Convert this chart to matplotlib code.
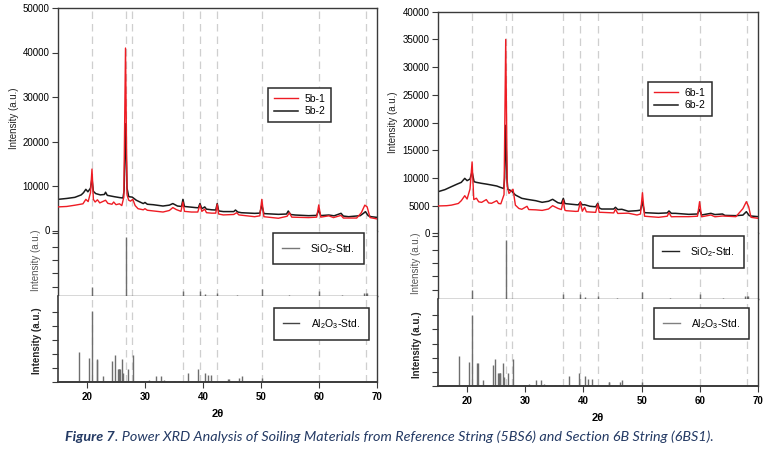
import matplotlib
matplotlib.use("Agg")
import matplotlib.pyplot as plt
from matplotlib.ticker import FixedLocator, NullFormatter

plt.rcParams['font.family'] = ['Liberation Sans', 'DejaVu Sans']
plt.rcParams['mathtext.fontset'] = 'custom'
plt.rcParams['mathtext.rm'] = 'Liberation Sans'
plt.rcParams['mathtext.default'] = 'regular'

# ---------------- data ----------------
# Sample 5b (left panel)
tt_5b1 = [15.0, 16.5, 18.0, 19.3, 19.8, 20.2, 20.6, 20.86, 21.1, 21.4, 21.8, 22.2, 23.2, 23.6,
          24.3, 24.6, 25.0, 25.6, 26.0, 26.35, 26.64, 26.9, 27.2, 27.5, 27.9, 28.3, 28.8, 29.7,
          30.0, 30.4, 31.4, 33.1, 34.2, 34.8, 35.4, 36.2, 36.54, 36.8, 38.0, 39.1, 39.47, 39.8,
          40.3, 40.6, 41.5, 42.2, 42.45, 42.7, 43.5, 45.3, 45.8, 46.2, 48.9, 49.8, 50.14, 50.5,
          53.0, 54.5, 54.9, 55.3, 58.2, 59.6, 59.96, 60.3, 61.7, 62.5, 63.8, 64.2, 66.5, 67.3,
          67.9, 68.3, 68.8, 70.0]
int_5b1 = [5300, 5400, 5700, 6000, 7000, 6500, 8500, 13800, 7000, 6400, 6900, 6200, 6800, 6100,
           5900, 6400, 5800, 6000, 5600, 7500, 41000, 8000, 6800, 6600, 7000, 5600, 4900, 4650,
           4900, 4550, 4400, 4150, 4500, 5150, 4700, 4300, 6400, 4300, 4150, 4150, 5750, 4300,
           4800, 4000, 3900, 3900, 5900, 3700, 3500, 3600, 4000, 3500, 3100, 3300, 7000, 3100,
           2750, 3200, 4000, 3000, 2900, 3000, 5750, 3000, 3300, 2900, 3400, 2800, 2800, 4000,
           5700, 5300, 2900, 2600]

tt_5b2 = [15.0, 16.5, 17.9, 19.0, 19.4, 19.8, 20.15, 20.6, 20.86, 21.1, 21.5, 22.3, 23.0, 23.2,
          23.5, 24.7, 25.6, 26.2, 26.4, 26.64, 26.9, 27.2, 27.8, 28.5, 29.7, 30.0, 30.4, 31.4,
          33.1, 34.2, 34.8, 35.6, 36.3, 36.54, 36.8, 38.7, 39.2, 39.47, 39.8, 40.3, 40.6, 41.5,
          42.2, 42.45, 42.7, 43.5, 45.3, 45.6, 46.0, 46.6, 48.9, 49.8, 50.14, 50.5, 53.0, 54.4,
          54.7, 55.1, 55.9, 58.2, 59.6, 59.96, 60.3, 61.7, 62.6, 63.8, 64.2, 65.1, 67.1, 67.7,
          68.0, 68.5, 69.0, 70.0]
int_5b2 = [7000, 7200, 7450, 8000, 8500, 9250, 8700, 9500, 11700, 8800, 8300, 8000, 8100, 8600,
           7900, 7600, 7400, 7300, 9000, 24000, 9500, 7600, 7500, 6800, 6050, 6300, 5900, 5800,
           5500, 5700, 6050, 5500, 5400, 7000, 5400, 5150, 5100, 6050, 4900, 5300, 4800, 4650,
           4600, 6050, 4400, 4250, 4250, 4600, 4150, 4000, 3850, 3900, 5730, 3800, 3630, 3700,
           4380, 3600, 3480, 3330, 3400, 4600, 3350, 3480, 3300, 3860, 3250, 3100, 3330, 3900,
           4230, 3300, 3100, 2950]

# Sample 6b (right panel)
tt_6b1 = [15.0, 16.5, 17.3, 18.5, 19.0, 19.6, 20.0, 20.5, 20.86, 21.15, 21.6, 22.0, 22.5, 23.3,
          23.7, 24.2, 25.1, 25.4, 25.8, 26.35, 26.64, 26.9, 27.2, 27.5, 27.9, 28.3, 28.9, 29.4,
          30.3, 30.6, 31.8, 32.9, 34.0, 34.7, 35.6, 36.2, 36.54, 36.8, 37.0, 38.7, 39.1, 39.47,
          39.8, 40.2, 40.5, 41.1, 42.1, 42.45, 42.7, 43.1, 45.2, 45.5, 45.9, 46.6, 47.7, 49.2,
          49.8, 50.14, 50.5, 52.9, 54.4, 54.7, 55.1, 55.8, 58.1, 59.6, 59.96, 60.3, 61.9, 62.6,
          63.9, 66.2, 67.4, 68.0, 68.4, 68.8, 70.0]
int_6b1 = [4950, 5000, 5100, 5400, 5900, 6800, 6200, 8000, 12900, 6100, 6350, 5700, 5600, 6100,
           5500, 5430, 5900, 5400, 5340, 7000, 35000, 8500, 7200, 7600, 7950, 5100, 4500, 4350,
           4890, 4300, 4250, 4150, 4400, 5000, 4520, 4300, 6000, 4200, 4100, 3970, 4000, 5720,
           4000, 4700, 3900, 3860, 3800, 5300, 3800, 3800, 3700, 4350, 3600, 3620, 3650, 3320,
           3500, 7340, 3100, 2900, 3100, 3740, 3000, 3020, 3020, 3100, 5720, 3000, 3320, 3000,
           3140, 3020, 4460, 5720, 4800, 2900, 2720]

tt_6b2 = [15.0, 16.2, 17.3, 18.3, 19.0, 19.6, 20.0, 20.5, 20.86, 21.2, 21.6, 22.5, 23.3, 24.2,
          25.1, 25.7, 26.3, 26.45, 26.64, 26.85, 27.0, 27.6, 28.3, 29.4, 30.3, 31.8, 32.9, 34.0,
          34.7, 35.6, 36.2, 36.54, 36.8, 37.0, 38.7, 39.1, 39.47, 39.8, 40.2, 41.1, 42.1, 42.45,
          42.7, 43.1, 45.2, 45.5, 45.9, 46.6, 47.7, 49.2, 49.8, 50.14, 50.5, 52.9, 54.4, 54.7,
          55.1, 55.8, 58.1, 59.6, 59.96, 60.3, 61.9, 62.6, 63.9, 64.3, 66.2, 67.4, 68.0, 68.5,
          68.8, 70.0]
int_6b2 = [7520, 7900, 8430, 8900, 9210, 9930, 9520, 9800, 11130, 9330, 9210, 9030, 8900, 8730,
           8550, 8310, 8100, 10000, 19500, 10000, 7950, 7700, 6930, 6330, 6150, 5900, 5610, 5800,
           6150, 5540, 5400, 6330, 5400, 5360, 5180, 5150, 5600, 5150, 5180, 4900, 4800, 5430,
           4600, 4400, 4400, 4710, 4300, 4350, 4000, 4100, 4200, 5720, 3740, 3620, 3700, 4050,
           3620, 3620, 3440, 3500, 4350, 3320, 3620, 3400, 3500, 3250, 3200, 3300, 3920, 3200,
           3140, 3020]

# Reference stick patterns (relative intensity)
sio2_pos = [20.86, 26.64, 36.54, 39.47, 40.30, 42.45, 45.80, 50.14, 54.87, 59.96, 64.03, 67.74, 68.14, 68.32]
sio2_int = [140, 891, 75, 69, 30, 39, 20, 108, 20, 69, 15, 39, 49, 39]

al2o3_pos = [18.62, 20.34, 20.86, 21.70, 21.80, 22.70, 24.37, 24.83, 25.30, 25.45, 25.60, 25.70,
             26.10, 26.27, 27.10, 27.90, 29.80, 30.70, 31.85, 32.76, 33.20, 35.06, 35.86, 37.47,
             39.20, 40.34, 40.80, 41.40, 44.35, 44.45, 46.26, 46.67, 50.10]
al2o3_int = [430, 340, 1010, 330, 320, 85, 295, 380, 185, 185, 185, 185,
             330, 125, 185, 380, 20, 30, 80, 85, 25, 20, 12, 135,
             185, 135, 100, 100, 50, 50, 60, 85, 60]

# Dashed reference positions (quartz reflections)
ref_lines = [20.86, 26.64, 27.80, 36.54, 39.47, 42.45, 50.14, 59.96, 68.10]

x_ticks = [20, 30, 40, 50, 60, 70]
left_yticks = [0, 10000, 20000, 30000, 40000, 50000]
right_yticks = [0, 5000, 10000, 15000, 20000, 25000, 30000, 35000, 40000]

caption_bold = "Figure 7"
caption_rest = ". Power XRD Analysis of Soiling Materials from Reference String (5BS6) and Section 6B String (6BS1)."

# ---------------- figure ----------------
W, H = 764, 472
fig = plt.figure(figsize=(W / 100, H / 100), dpi=100)

RED = '#ee1c24'
BLK = '#1a1a1a'
SPINE = '#3a3a3a'
STICK = '#6e6e6e'
DASH = '#cfcfcf'


def px_axes(x0, x1, y0, y1):
    return fig.add_axes([x0 / W, 1 - y1 / H, (x1 - x0) / W, (y1 - y0) / H])


def style(ax, sides):
    for s in ['top', 'bottom', 'left', 'right']:
        ax.spines[s].set_visible(s in sides)
        ax.spines[s].set_color(SPINE)
        ax.spines[s].set_linewidth(1.0)
    ax.set_xlim(15, 70)
    for x in ref_lines:
        ax.axvline(x, color=DASH, lw=0.9, ls=(0, (6, 4)), zorder=0)
    ax.tick_params(axis='y', direction='out', length=4, width=0.8, color=SPINE,
                   labelsize=7, pad=2)
    ax.tick_params(axis='x', direction='out', length=4, width=0.8, color=SPINE)


def legend(ax, anchor, **kw):
    leg = ax.legend(loc='upper left', bbox_to_anchor=anchor, borderaxespad=0,
                    fancybox=False, framealpha=1, edgecolor='#2a2a2a',
                    prop={'size': 7.5}, **kw)
    leg.get_frame().set_linewidth(1.1)
    return leg


panels = [
    dict(x0=58, x1=377, t0=8, t1=230.5, m1=296, b1=382,
         s1=(tt_5b1, int_5b1), s2=(tt_5b2, int_5b2), labels=('5b-1', '5b-2'),
         ymax=50000, yticks=left_yticks,
         la=(0.658, 0.640), ma=(0.674, 0.962), ba=(0.677, 0.860), ylx=-0.122,
         sio2_col='#777777', al_col='#444444'),
    dict(x0=438, x1=758, t0=11.7, t1=233.4, m1=299, b1=386,
         s1=(tt_6b1, int_6b1), s2=(tt_6b2, int_6b2), labels=('6b-1', '6b-2'),
         ymax=40000, yticks=right_yticks,
         la=(0.656, 0.683), ma=(0.672, 0.960), ba=(0.675, 0.897), ylx=-0.125,
         sio2_col='#222222', al_col='#808080'),
]

for p in panels:
    # top spectrum panel
    ax1 = px_axes(p['x0'], p['x1'], p['t0'], p['t1'])
    style(ax1, ['top', 'left', 'right'])
    ax1.plot(p['s2'][0], p['s2'][1], color=BLK, lw=1.1, label=p['labels'][1], zorder=2)
    ax1.plot(p['s1'][0], p['s1'][1], color=RED, lw=1.0, label=p['labels'][0], zorder=3)
    ax1.set_ylim(0, p['ymax'])
    ax1.yaxis.set_major_locator(FixedLocator(p['yticks']))
    ax1.set_xticks([])
    ax1.set_ylabel('Intensity (a.u.)', fontsize=7, color='#222222')
    ax1.yaxis.set_label_coords(p['ylx'], 0.503)
    h, l = ax1.get_legend_handles_labels()
    legend(ax1, p['la'], handles=[h[1], h[0]], labels=[l[1], l[0]],
           handlelength=2.3, handletextpad=0.7, labelspacing=0.25, borderpad=0.55)

    # middle SiO2 standard panel
    ax2 = px_axes(p['x0'], p['x1'], p['t1'], p['m1'])
    style(ax2, ['left', 'right', 'bottom'])
    ax2.set_ylim(0, 985)
    ax2.vlines(sio2_pos, 0, sio2_int, color=STICK, lw=1.0, zorder=2)
    ax2.yaxis.set_major_locator(FixedLocator([140, 340, 540, 740, 940]))
    ax2.yaxis.set_major_formatter(NullFormatter())
    ax2.set_xticks([])
    ax2.set_ylabel('Intensity (a.u.)', fontsize=7, color='#555555')
    ax2.yaxis.set_label_coords(-0.052, 0.55)
    ln, = ax2.plot([], [], color=p['sio2_col'], lw=1.0)
    legend(ax2, p['ma'], handles=[ln], labels=['SiO$_2$-Std.'],
           handlelength=1.6, handletextpad=1.1, borderpad=0.85)

    # bottom Al2O3 standard panel
    ax3 = px_axes(p['x0'], p['x1'], p['m1'], p['b1'])
    style(ax3, ['left', 'right', 'bottom'])
    ax3.spines['bottom'].set_linewidth(1.4)
    ax3.spines['left'].set_linewidth(1.2)
    ax3.set_ylim(0, 1230)
    ax3.vlines(al2o3_pos, 0, al2o3_int, color=STICK, lw=1.0, zorder=2)
    ax3.yaxis.set_major_locator(FixedLocator([0, 200, 400, 600, 800, 1000]))
    ax3.yaxis.set_major_formatter(NullFormatter())
    ax3.set_xticks(x_ticks)
    ax3.set_xticklabels([str(v) for v in x_ticks], fontsize=7, fontweight='bold')
    ax3.tick_params(axis='x', pad=3)
    ax3.set_xlabel('2θ', fontsize=8, fontweight='bold', labelpad=5)
    ax3.set_ylabel('Intensity (a.u.)', fontsize=7, fontweight='bold', color='#222222')
    ax3.yaxis.set_label_coords(-0.050, 0.48)
    ln3, = ax3.plot([], [], color=p['al_col'], lw=1.0)
    legend(ax3, p['ba'], handles=[ln3], labels=['Al$_2$O$_3$-Std.'],
           handlelength=1.6, handletextpad=1.1, borderpad=0.85)

# caption
CAP = '#243a64'
t1 = fig.text(65 / W, 1 - 437 / H, caption_bold, fontsize=10.4, style='italic', fontweight='bold',
              color=CAP, family=['Lato', 'DejaVu Sans'], va='center', ha='left')
ann = plt.annotate(caption_rest, xy=(1, 0), xycoords=t1, va='bottom', ha='left',
                   fontsize=10.4, style='italic', color=CAP, family=['Lato', 'DejaVu Sans'],
                   annotation_clip=False)

fig.savefig('out.png', dpi=100)
